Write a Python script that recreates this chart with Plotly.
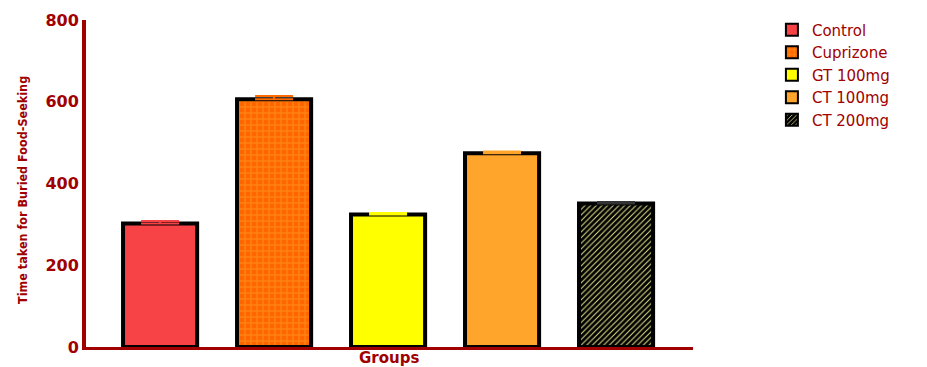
import plotly.graph_objects as go

groups = ["Control", "Cuprizone", "GT 100mg", "CT 100mg", "CT 200mg"]
means = [302, 606, 324, 474, 351]
errors = [6, 8, 4, 4, 4]
colors = ["#F74346", "#FF6A00", "#FFFF00", "#FFA52C", "#000000"]
err_colors = ["#F74346", "#FF6A00", "#FFFF00", "#FFA52C", "#333333"]
patterns = [
    dict(shape=""),
    dict(shape="+", bgcolor="#FF6600", fgcolor="#FF8010", size=6, solidity=0.45, fillmode="replace"),
    dict(shape=""),
    dict(shape=""),
    dict(shape="/", bgcolor="#000000", fgcolor="#E3E38C", size=4, solidity=0.25, fillmode="replace"),
]
x_title = "Groups"
y_title = "Time taken for Buried Food-Seeking"

AX = "#A00000"
fig = go.Figure()
for i, g in enumerate(groups):
    fig.add_trace(go.Bar(
        x=[g], y=[means[i]], name=g,
        width=0.65,
        marker=dict(color=colors[i], line=dict(color="#000000", width=4), pattern=patterns[i]),
        error_y=dict(type="data", array=[errors[i]], arrayminus=[0], symmetric=False,
                     color=err_colors[i], thickness=2, width=19),
    ))

fig.update_layout(
    width=927, height=367,
    margin=dict(l=86, r=234, t=20, b=20),
    plot_bgcolor="white", paper_bgcolor="white",
    barmode="overlay", showlegend=True,
    font=dict(family="DejaVu Sans, sans-serif", color=AX),
    legend=dict(x=1.13, xanchor="left", y=1.02, yanchor="top",
                font=dict(size=15, color=AX, family="DejaVu Sans, sans-serif"),
                tracegroupgap=0, itemsizing="constant", bgcolor="rgba(0,0,0,0)"),
    annotations=[
        dict(text="<b>" + x_title + "</b>", xref="paper", yref="paper",
             x=(389 - 86) / 607, y=(347 - 368) / 327, xanchor="center", yanchor="bottom",
             borderpad=0,
             showarrow=False, font=dict(size=15, color=AX, family="DejaVu Sans, sans-serif")),
        dict(text=y_title, xref="paper", yref="paper", textangle=-90,
             x=(22 - 86) / 607, y=(347 - 190) / 327, xanchor="center", yanchor="middle",
             showarrow=False,
             font=dict(size=12.5, color=AX, family="DejaVu Sans Condensed, Liberation Sans, sans-serif",
                       weight="bold")),
    ],
)
fig.update_xaxes(
    type="category", categoryorder="array", categoryarray=groups,
    range=[-0.65, 4.675], showticklabels=False, ticks="",
    showline=True, linecolor=AX, linewidth=3, showgrid=False, zeroline=False,
    automargin=False,
)
fig.update_yaxes(
    range=[0, 800], tickvals=[0, 200, 400, 600, 800], ticks="",
    showline=True, linecolor=AX, linewidth=4, showgrid=False, zeroline=False,
    automargin=False,
    tickfont=dict(size=16, color=AX, family="DejaVu Sans, sans-serif", weight="bold"),
    ticklabelstandoff=0,
)

fig.write_html("out.html")
